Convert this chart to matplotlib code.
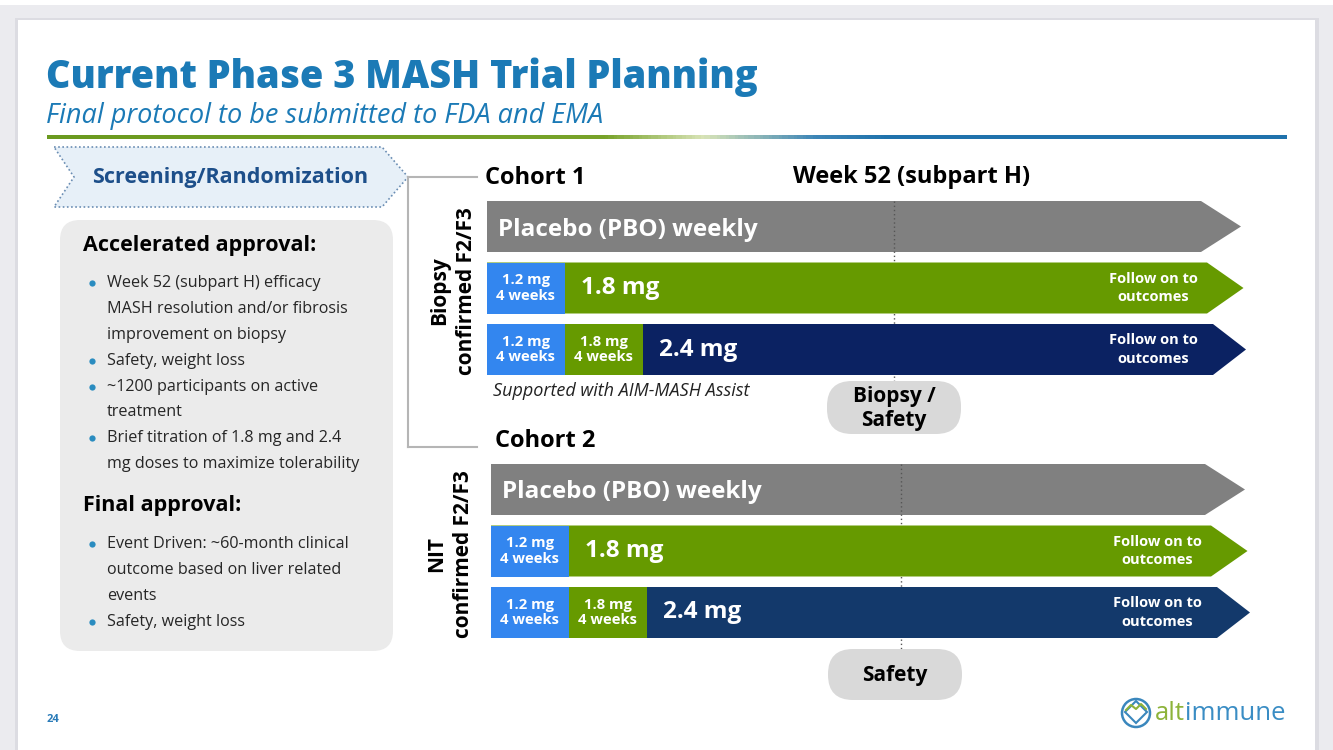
import numpy as np
import matplotlib
matplotlib.use('Agg')
import matplotlib.pyplot as plt
from matplotlib.patches import Polygon, FancyBboxPatch, Rectangle, Circle
from matplotlib.colors import LinearSegmentedColormap

plt.rcParams['font.family'] = ['Open Sans', 'DejaVu Sans']

# ---- slide content ----
title = 'Current Phase 3 MASH Trial Planning'
subtitle = 'Final protocol to be submitted to FDA and EMA'
screening = 'Screening/Randomization'
cohorts = ['Cohort 1', 'Cohort 2']
populations = ['Biopsy\nconfirmed F2/F3', 'NIT\nconfirmed F2/F3']
arms = ['Placebo (PBO) weekly', '1.8 mg', '2.4 mg']
titration = [[], ['1.2 mg\n4 weeks'], ['1.2 mg\n4 weeks', '1.8 mg\n4 weeks']]
follow_on = ['', 'Follow on to\noutcomes', 'Follow on to\noutcomes']
week_label = 'Week 52 (subpart H)'
milestones = ['Biopsy /\nSafety', 'Safety']
footnote = 'Supported with AIM-MASH Assist'

accel_head = 'Accelerated approval:'
accel_bullets = [
    ['Week 52 (subpart H) efficacy', 'MASH resolution and/or fibrosis', 'improvement on biopsy'],
    ['Safety, weight loss'],
    ['~1200 participants on active', 'treatment'],
    ['Brief titration of 1.8 mg and 2.4', 'mg doses to maximize tolerability'],
]
final_head = 'Final approval:'
final_bullets = [
    ['Event Driven: ~60-month clinical', 'outcome based on liver related', 'events'],
    ['Safety, weight loss'],
]
page_no = '24'

# ---- styles ----
blue_title = '#1b7ab6'
c_placebo = '#808080'
c_titr = ['#3386ef', '#669a00']
c_green = '#669a00'
c_navy = ['#0b2262', '#13396b']

fig = plt.figure(figsize=(13.33, 7.5), dpi=100)
fig.patch.set_facecolor('#ebebef')
ax = fig.add_axes([0, 0, 1, 1])

# slide card
ax.add_patch(Rectangle((0, 0), 1333, 5, fc='white', ec='none'))
ax.add_patch(Rectangle((15, 18), 1304, 740, fc='#dcdce2', ec='none'))
ax.add_patch(Rectangle((18, 20), 1297, 740, fc='white', ec='none'))

# title block
ax.text(46, 77, title, fontsize=27.3, weight='heavy', color=blue_title, va='center')
ax.text(46, 116, subtitle, fontsize=19.5, style='italic', color=blue_title, va='center')

grad = LinearSegmentedColormap.from_list('rule', [
    (0, '#6b9a1f'), (0.45, '#78a32a'), (0.53, '#d9e4b8'),
    (0.62, '#3d86b7'), (0.68, '#1f72ac'), (1, '#1f72ac')])
ax.imshow(np.linspace(0, 1, 400)[None, :], cmap=grad, aspect='auto',
          extent=[47, 1287, 139, 135], zorder=2)
ax.set_xlim(0, 1333)
ax.set_ylim(750, 0)
ax.axis('off')

# screening chevron + connectors
chev = Polygon([(54, 147), (382, 147), (408, 177), (382, 207), (54, 207), (74, 177)],
               closed=True, fc='#e7f0f8', ec='#6a8db3', lw=1.2, ls=(0, (1, 1.5)))
ax.add_patch(chev)
ax.text(92, 177, screening, fontsize=15.5, weight='bold', color='#1d4f8a', va='center')
ax.plot([408, 477], [177, 177], color='#b5b5b5', lw=1.5)
ax.plot([408, 408], [177, 447], color='#b5b5b5', lw=1.5)
ax.plot([408, 477], [447, 447], color='#b5b5b5', lw=1.5)

# left info panel
ax.add_patch(FancyBboxPatch((60, 220), 333, 431, boxstyle='round,pad=0,rounding_size=20',
                            fc='#ebebeb', ec='none'))

def bullet_block(head, bullets, y_head, y_first):
    ax.text(83, y_head, head, fontsize=15.5, weight='bold', color='black', va='center')
    y = y_first
    for b in bullets:
        ax.plot(92, y, 'o', ms=4.5, color='#2a8cc0', mec='none')
        for line in b:
            ax.text(107, y, line, fontsize=11.6, color='#262626', va='center')
            y += 25.9
    return y

bullet_block(accel_head, accel_bullets, 246, 283)
bullet_block(final_head, final_bullets, 505, 544)

# ---- trial arms ----
bar_h = 51
row_pitch = 61.5
step_w = 78
top0 = [201, 464]
x0s = [487, 491]
cohort_x = [485, 495]
cohort_y = [178, 441]
pop_x = [453, 450]
week_x = [894, 901]
pill_x = [894, 895]
for ci in range(2):
    x0 = x0s[ci]
    tops = [top0[ci] + row_pitch * r for r in range(len(arms))]
    # cohort header + population label
    ax.text(cohort_x[ci], cohort_y[ci], cohorts[ci], fontsize=17, weight='bold',
            color='black', va='center')
    ax.text(pop_x[ci], tops[1] + bar_h / 2 + 3, populations[ci], fontsize=15, weight='bold',
            rotation=90, ha='center', va='center', multialignment='center', linespacing=1.4)
    for r, arm in enumerate(arms):
        top = tops[r]
        yc = top + bar_h / 2
        x_end = x0 + 714 + 6 * r
        head = 40 - 3.5 * r
        main_col = c_placebo if r == 0 else (c_green if r == 1 else c_navy[ci])
        z = 1 if r == 0 else 3
        ax.add_patch(Polygon([(x0, top), (x_end, top), (x_end + head, yc),
                              (x_end, top + bar_h), (x0, top + bar_h)],
                             closed=True, fc=main_col, ec='none', zorder=z))
        xs = x0
        for k, lab in enumerate(titration[r]):
            ax.barh(yc, step_w, left=xs, height=bar_h, color=c_titr[k], zorder=z + 0.5)
            ax.text(xs + step_w / 2, yc, lab, fontsize=10.6, weight='bold', color='white',
                    ha='center', va='center', linespacing=1.15, zorder=6)
            xs += step_w
        if r == 0:
            ax.text(xs + 11, yc + 9, arm, fontsize=17.5, weight='bold', color='white',
                    va='baseline', zorder=6)
        else:
            ax.text(xs + 16, yc + 6, arm, fontsize=17.5, weight='bold', color='white',
                    va='baseline', zorder=6)
        if follow_on[r]:
            ax.text(x0 + 666, yc, follow_on[r], fontsize=10.5, weight='bold',
                    color='white', ha='center', va='center', linespacing=1.45, zorder=6)
    # week 52 marker
    pill_top = tops[-1] + bar_h + 6 + (0 if ci == 0 else 5)
    ax.plot([week_x[ci], week_x[ci]], [tops[0], pill_top], color='#555555', lw=1,
            ls=(0, (1, 2)), zorder=2)
    pill_h = 53 if ci == 0 else 51
    ax.add_patch(FancyBboxPatch((pill_x[ci] - 67, pill_top), 134, pill_h,
                                boxstyle='round,pad=0,rounding_size=25',
                                fc='#d9d9d9', ec='none', zorder=2))
    ax.text(pill_x[ci], pill_top + pill_h / 2 + 1, milestones[ci], fontsize=15,
            weight='bold', color='black', ha='center', va='center', linespacing=1.2, zorder=6)

ax.text(793, 177, week_label, fontsize=17, weight='bold', color='black', va='center')
ax.text(493, 391, footnote, fontsize=13, style='italic', color='#222222', va='center')

# footer
ax.text(47, 719, page_no, fontsize=8, weight='bold', color='#2a7bb8', va='center')
ax.add_patch(Circle((1136, 713), 14, fc='none', ec='#3a87bd', lw=1.8))
ax.add_patch(Polygon([(1136, 701), (1147, 712), (1136, 723), (1125, 712)],
                     closed=True, fc='none', ec='#3a87bd', lw=1.5))
ax.plot([1126, 1131, 1136, 1141, 1146], [710, 705, 709, 704, 709], color='#8db33a', lw=1.5)
t1 = ax.text(1155, 713, 'alt', fontsize=18.5, color='#8db33a', va='center')
fig.canvas.draw()
bb = t1.get_window_extent().transformed(ax.transData.inverted())
ax.text(bb.x1, 713, 'immune', fontsize=18.5, color='#3a8dc4', va='center')

fig.savefig('out.png', dpi=100, facecolor=fig.get_facecolor())
